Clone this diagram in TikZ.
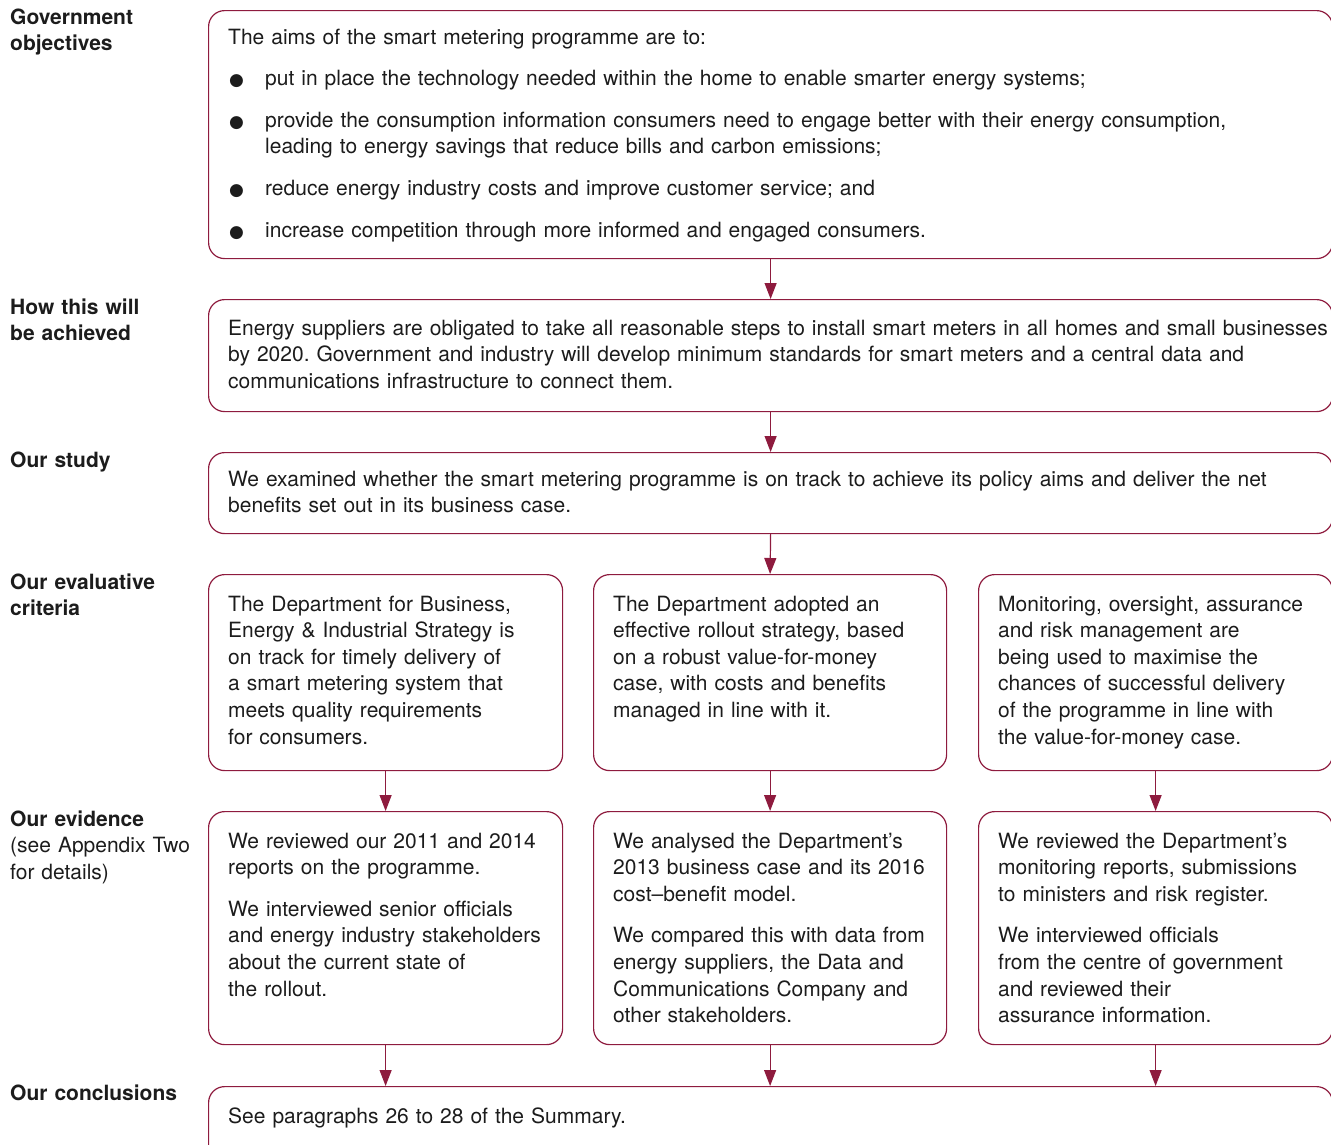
\documentclass[tikz,border=0pt]{standalone}
\usepackage{fontspec}
\setmainfont{TeX Gyre Heros}
\newfontfamily\dotfont{DejaVu Sans}
\usetikzlibrary{arrows.meta,calc,positioning}
\frenchspacing

\definecolor{naored}{HTML}{8E1B3E}
\definecolor{naotext}{HTML}{1C1C1C}

\newcommand{\gap}{\par\vspace{15pt}}
\newcommand{\blt}{\hangindent=37pt\hangafter=1\makebox[37pt][l]{\hspace{1pt}{\dotfont\fontsize{17}{17}\selectfont ●}}}

\tikzset{
  box/.style={draw=naored, line width=1.2pt, rounded corners=16pt,
    anchor=north west, inner sep=0pt},
  boxtext/.style={anchor=base west, inner sep=0pt, align=left, text=naotext,
    font=\fontsize{21}{26.6}\selectfont},
  rowlabel/.style={anchor=base west, inner sep=0pt, align=left, text=naotext,
    text width=195pt, font=\fontsize{21}{26.6}\selectfont},
  flow/.style={draw=naored, line width=1.2pt, -{Triangle[width=12pt,length=16pt]}}
}

\begin{document}
\begin{tikzpicture}[x=1pt,y=-1pt]
  \def \fullw {1124}
  \def \colw {354}
  \clip (0,0) rectangle (1331,1144);

  %% row labels on the left
  \node[rowlabel] (lblobj) at (10,24) {\textbf{Government}\\\textbf{objectives}};
  \node[rowlabel] (lblhow) at (10,314) {\textbf{How this will}\\\textbf{be achieved}};
  \node[rowlabel] (lblstudy) at (10,467) {\textbf{Our study}};
  \node[rowlabel] (lblcrit) at (10,589) {\textbf{Our evaluative}\\\textbf{criteria}};
  \node[rowlabel] (lblev) at (10,826) {\textbf{Our evidence}\\(see Appendix Two\\for details)};
  \node[rowlabel] (lblconc) at (10,1100) {\textbf{Our conclusions}};

  %% boxes
  \node[box, minimum width=\fullw, minimum height=248] (obj) at (208,10) {};
  \node[box, minimum width=\fullw, minimum height=112] (how) at (208,299) {};
  \node[box, minimum width=\fullw, minimum height=81] (study) at (208,452) {};
  \node[box, minimum width=\colw, minimum height=196] (crita) at (208,574) {};
  \node[box, minimum width=353, minimum height=196] (critb) at (593,574) {};
  \node[box, minimum width=\colw, minimum height=196] (critc) at (978,574) {};
  \node[box, minimum width=\colw, minimum height=233] (eva) at (208,811) {};
  \node[box, minimum width=353, minimum height=233] (evb) at (593,811) {};
  \node[box, minimum width=\colw, minimum height=233] (evc) at (978,811) {};
  \node[box, minimum width=\fullw, minimum height=100] (conc) at (208,1086) {};

  %% box texts
  \node[boxtext, text width=1100] (txtobj) at ($(obj.north west)+(20,34)$) {%
    The aims of the smart metering programme are to:\gap
    \blt put in place the technology needed within the home to enable smarter energy systems;\gap
    \blt provide the consumption information consumers need to engage better with their energy consumption,\newline
    leading to energy savings that reduce bills and carbon emissions;\gap
    \blt reduce energy industry costs and improve customer service; and\gap
    \blt increase competition through more informed and engaged consumers.};
  \node[boxtext, text width=1100] (txthow) at ($(how.north west)+(20,36)$) {%
    Energy suppliers are obligated to take all reasonable steps to install smart meters in all homes and small businesses\\
    by 2020. Government and industry will develop minimum standards for smart meters and a central data and\\
    communications infrastructure to connect them.};
  \node[boxtext, text width=1100] (txtstudy) at ($(study.north west)+(20,34)$) {%
    We examined whether the smart metering programme is on track to achieve its policy aims and deliver the net\\
    benefits set out in its business case.};
  \node[boxtext, text width=340] (txtcrita) at ($(crita.north west)+(20,37)$) {%
    The Department for Business,\\ Energy \& Industrial Strategy is\\ on track for timely delivery of\\
    a smart metering system that\\ meets quality requirements\\ for consumers.};
  \node[boxtext, text width=340] (txtcritb) at ($(critb.north west)+(20,37)$) {%
    The Department adopted an\\ effective rollout strategy, based\\ on a robust value-for-money\\
    case, with costs and benefits\\ managed in line with it.};
  \node[boxtext, text width=340] (txtcritc) at ($(critc.north west)+(20,37)$) {%
    Monitoring, oversight, assurance\\ and risk management are\\ being used to maximise the\\
    chances of successful delivery\\ of the programme in line with\\ the value-for-money case.};
  \node[boxtext, text width=340] (txteva) at ($(eva.north west)+(20,37)$) {%
    We reviewed our 2011 and 2014\\ reports on the programme.\gap
    We interviewed senior officials\\ and energy industry stakeholders\\ about the current state of\\ the rollout.};
  \node[boxtext, text width=340] (txtevb) at ($(evb.north west)+(20,37)$) {%
    We analysed the Department’s\\ 2013 business case and its 2016\\ cost–benefit model.\gap
    We compared this with data from\\ energy suppliers, the Data and\\ Communications Company and\\ other stakeholders.};
  \node[boxtext, text width=340] (txtevc) at ($(evc.north west)+(20,37)$) {%
    We reviewed the Department’s\\ monitoring reports, submissions\\ to ministers and risk register.\gap
    We interviewed officials\\ from the centre of government\\ and reviewed their\\ assurance information.};
  \node[boxtext, text width=1100] (txtconc) at ($(conc.north west)+(20,37)$) {%
    See paragraphs 26 to 28 of the Summary.};

  %% arrows between the rows
  \draw[flow] (obj.south) -- (how.north);
  \draw[flow] (how.south) -- (study.north);
  \draw[flow] (study.south) -- (critb.north);
  \draw[flow] (crita.south) -- (eva.north);
  \draw[flow] (critb.south) -- (evb.north);
  \draw[flow] (critc.south) -- (evc.north);
  \draw[flow] (eva.south) -- (eva.south |- conc.north);
  \draw[flow] (evb.south) -- (evb.south |- conc.north);
  \draw[flow] (evc.south) -- (evc.south |- conc.north);
\end{tikzpicture}
\end{document}
